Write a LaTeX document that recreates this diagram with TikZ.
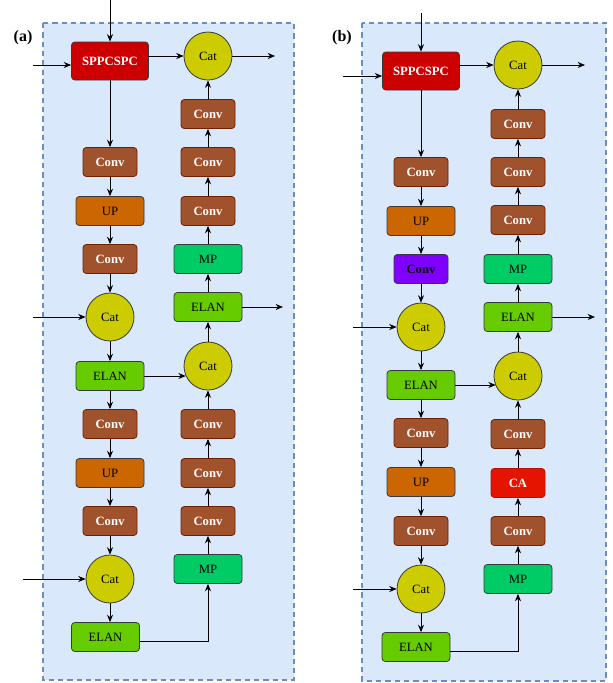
\documentclass[tikz,border=0pt]{standalone}
\usepackage{fontspec}
\setmainfont{Liberation Serif}
\usetikzlibrary{arrows.meta}
\definecolor{bgfill}{HTML}{DAE8FC}
\definecolor{bgline}{HTML}{6C8EBF}
\definecolor{convc}{HTML}{A0522D}
\definecolor{convd}{HTML}{6D1F00}
\definecolor{sppc}{HTML}{CC0000}
\definecolor{catc}{HTML}{CCCC00}
\definecolor{upc}{HTML}{CC6600}
\definecolor{elanc}{HTML}{66CC00}
\definecolor{mpc}{HTML}{00CC66}
\definecolor{purpc}{HTML}{7F00FF}
\definecolor{cac}{HTML}{E51400}
\definecolor{edgec}{HTML}{36393D}
\begin{document}
\begin{tikzpicture}[x=0.75pt,y=-0.75pt,
  blk/.style={draw=edgec, rounded corners=2.5pt, inner sep=0pt, minimum height=21.75pt, line width=0.6pt, font=\fontsize{9.5}{10}\selectfont},
  convbox/.style={blk, fill=convc, draw=convd, minimum width=40.5pt, text=white, font=\fontsize{9.5}{10}\selectfont\bfseries},
  pconvbox/.style={blk, fill=purpc, minimum width=40.5pt, text=black, font=\fontsize{9.5}{10}\selectfont\bfseries},
  cabox/.style={blk, fill=cac, draw=cac!80!black, minimum width=40.5pt, text=white, font=\fontsize{9.5}{10}\selectfont\bfseries},
  upbox/.style={blk, fill=upc, minimum width=51pt},
  elanbox/.style={blk, fill=elanc, minimum width=51pt},
  mpbox/.style={blk, fill=mpc, minimum width=51pt},
  sppbox/.style={blk, fill=sppc, minimum width=57.75pt, minimum height=28.5pt, text=white, font=\fontsize{9.5}{10}\selectfont\bfseries},
  catnode/.style={circle, draw=edgec, fill=catc, minimum size=36pt, inner sep=0pt, line width=0.6pt, font=\fontsize{9.5}{10}\selectfont},
  arr/.style={-{Stealth[length=5.5pt,width=4.5pt]}, line width=0.6pt, draw=black},
  lbl/.style={font=\fontsize{12}{13}\selectfont\bfseries}
]
\useasboundingbox (0,0) rectangle (613,683);
% backgrounds
\draw[bgline, fill=bgfill, dash pattern=on 4pt off 3pt, line width=1pt] (43,23) rectangle (294,680);
\draw[bgline, fill=bgfill, dash pattern=on 4pt off 3pt, line width=1pt] (362,23) rectangle (606,681);
\node[lbl] (la) at (23,38) {(a)};
\node[lbl] (lb) at (342,38) {(b)};

% ---------- panel (a) ----------
\node[sppbox] (sppa) at (110,61) {SPPCSPC};
\node[convbox] (ac1) at (110,162) {Conv};
\node[upbox] (aup1) at (110,211) {UP};
\node[convbox] (ac2) at (110,259) {Conv};
\node[catnode] (acat1) at (110,317) {Cat};
\node[elanbox] (ael1) at (110,376) {ELAN};
\node[convbox] (ac3) at (110,424) {Conv};
\node[upbox] (aup2) at (110,473) {UP};
\node[convbox] (ac4) at (110,521) {Conv};
\node[catnode] (acat2) at (110,579) {Cat};
\node[elanbox] (ael2) at (105.5,637) {ELAN};

\node[catnode] (acat4) at (208,56) {Cat};
\node[convbox] (ar1) at (208,114) {Conv};
\node[convbox] (ar2) at (208,162) {Conv};
\node[convbox] (ar3) at (208,211) {Conv};
\node[mpbox] (amp1) at (208,259) {MP};
\node[elanbox] (ael3) at (208,307) {ELAN};
\node[catnode] (acat3) at (208,366) {Cat};
\node[convbox] (ar4) at (208,424) {Conv};
\node[convbox] (ar5) at (208,473) {Conv};
\node[convbox] (ar6) at (208,521) {Conv};
\node[mpbox] (amp2) at (208,569) {MP};

\coordinate (aintop) at (110,0);
\coordinate (ainl) at (33,65);
\coordinate (ainc1) at (33,317);
\coordinate (ainc2) at (23,579);
\coordinate (aout1) at (275,56);
\coordinate (aout2) at (283,307);

\draw[arr] (aintop) -- (sppa);
\draw[arr] (ainl) -- (sppa.west |- ainl);
\draw[arr] (sppa) -- (ac1);
\draw[arr] (ac1) -- (aup1);
\draw[arr] (aup1) -- (ac2);
\draw[arr] (ac2) -- (acat1);
\draw[arr] (ainc1) -- (acat1);
\draw[arr] (acat1) -- (ael1);
\draw[arr] (ael1) -- (ac3);
\draw[arr] (ac3) -- (aup2);
\draw[arr] (aup2) -- (ac4);
\draw[arr] (ac4) -- (acat2);
\draw[arr] (ainc2) -- (acat2);
\draw[arr] (acat2) -- (acat2 |- ael2.north);
\draw[arr] ([yshift=-3.4pt]ael2.east) -| (amp2.south);
\draw[arr] (amp2) -- (ar6);
\draw[arr] (ar6) -- (ar5);
\draw[arr] (ar5) -- (ar4);
\draw[arr] (ar4) -- (acat3);
\draw[arr] (ael1.east) -- (ael1.east -| acat3.204);
\draw[arr] (acat3) -- (ael3);
\draw[arr] (ael3) -- (aout2);
\draw[arr] (ael3) -- (amp1);
\draw[arr] (amp1) -- (ar3);
\draw[arr] (ar3) -- (ar2);
\draw[arr] (ar2) -- (ar1);
\draw[arr] (ar1) -- (acat4);
\draw[arr] (sppa.east |- acat4.west) -- (acat4.west);
\draw[arr] (acat4) -- (aout1);

% ---------- panel (b) ----------
\node[sppbox] (sppb) at (421,71) {SPPCSPC};
\node[convbox] (bc1) at (421,172) {Conv};
\node[upbox] (bup1) at (421,221) {UP};
\node[pconvbox] (bpc) at (421,269) {Conv};
\node[catnode] (bcat1) at (421,327) {Cat};
\node[elanbox] (bel1) at (421,385) {ELAN};
\node[convbox] (bc2) at (421,433) {Conv};
\node[upbox] (bup2) at (421,482) {UP};
\node[convbox] (bc3) at (421,531) {Conv};
\node[catnode] (bcat2) at (421,589) {Cat};
\node[elanbox] (bel2) at (416,647) {ELAN};

\node[catnode] (bcat4) at (518,65) {Cat};
\node[convbox] (br1) at (518,124) {Conv};
\node[convbox] (br2) at (518,172) {Conv};
\node[convbox] (br3) at (518,220) {Conv};
\node[mpbox] (bmp1) at (518,269) {MP};
\node[elanbox] (bel3) at (518,317) {ELAN};
\node[catnode] (bcat3) at (518,376) {Cat};
\node[convbox] (br4) at (518,434) {Conv};
\node[cabox] (bca) at (518,483) {CA};
\node[convbox] (br5) at (518,531) {Conv};
\node[mpbox] (bmp2) at (518,579) {MP};

\coordinate (bintop) at (421,13);
\coordinate (binl) at (343,76);
\coordinate (binc1) at (353,327);
\coordinate (binc2) at (353,589);
\coordinate (bout1) at (585,65);
\coordinate (bout2) at (595,317);

\draw[arr] (bintop) -- (sppb);
\draw[arr] (binl) -- (sppb.west |- binl);
\draw[arr] (sppb) -- (bc1);
\draw[arr] (bc1) -- (bup1);
\draw[arr] (bup1) -- (bpc);
\draw[arr] (bpc) -- (bcat1);
\draw[arr] (binc1) -- (bcat1);
\draw[arr] (bcat1) -- (bel1);
\draw[arr] (bel1) -- (bc2);
\draw[arr] (bc2) -- (bup2);
\draw[arr] (bup2) -- (bc3);
\draw[arr] (bc3) -- (bcat2);
\draw[arr] (binc2) -- (bcat2);
\draw[arr] (bcat2) -- (bcat2 |- bel2.north);
\draw[arr] ([yshift=-3.4pt]bel2.east) -| (bmp2.south);
\draw[arr] (bmp2) -- (br5);
\draw[arr] (br5) -- (bca);
\draw[arr] (bca) -- (br4);
\draw[arr] (br4) -- (bcat3);
\draw[arr] (bel1.east) -- (bel1.east -| bcat3.204);
\draw[arr] (bcat3) -- (bel3);
\draw[arr] (bel3) -- (bout2);
\draw[arr] (bel3) -- (bmp1);
\draw[arr] (bmp1) -- (br3);
\draw[arr] (br3) -- (br2);
\draw[arr] (br2) -- (br1);
\draw[arr] (br1) -- (bcat4);
\draw[arr] (sppb.east |- bcat4.west) -- (bcat4.west);
\draw[arr] (bcat4) -- (bout1);
\end{tikzpicture}
\end{document}
